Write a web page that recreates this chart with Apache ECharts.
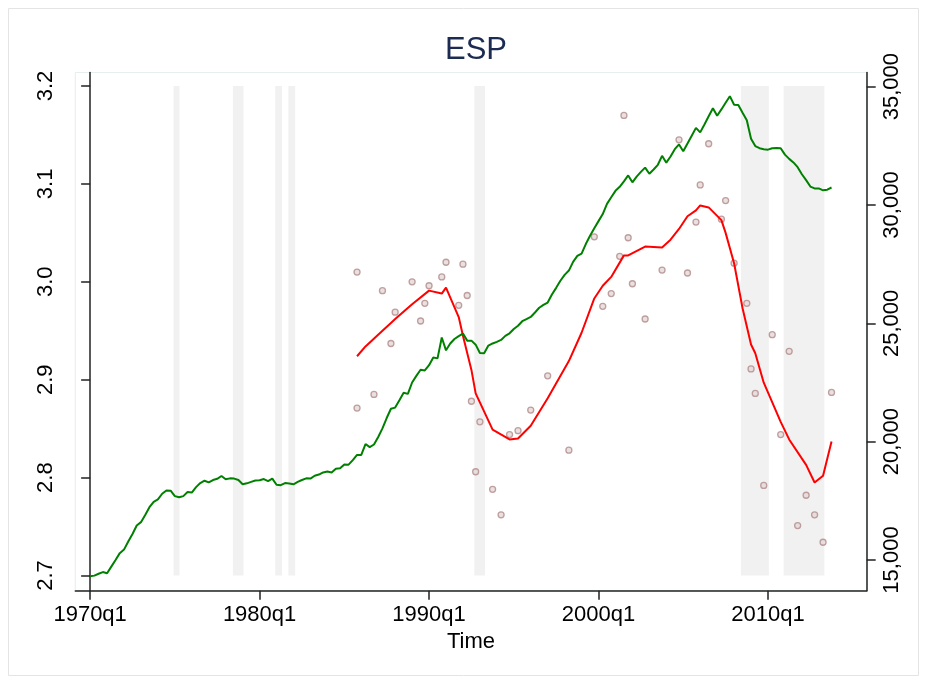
<!DOCTYPE html>
<html>
<head>
<meta charset="utf-8">
<script src="https://cdn.jsdelivr.net/npm/echarts@6/dist/echarts.min.js"></script>
<style>
  html, body { margin: 0; padding: 0; background: #fff; }
  #chart { width: 928px; height: 683px; }
</style>
</head>
<body>
<div id="chart"></div>
<script>
(function () {
    // quarter index: 0 = 1970q1
    let greenVals = [
        14315, 14340, 14420, 14490, 14440, 14720, 15000, 15290, 15440, 15780,
        16100, 16460, 16600, 16900, 17230, 17460, 17560, 17800, 17940, 17930,
        17700, 17650, 17700, 17870, 17850, 18080, 18250, 18350, 18280, 18380,
        18430, 18550, 18410, 18450, 18440, 18380, 18200, 18240, 18300, 18360,
        18370, 18420, 18330, 18440, 18180, 18160, 18250, 18230, 18200, 18300,
        18380, 18450, 18440, 18560, 18610, 18700, 18740, 18700, 18860, 18880,
        19040, 19030, 19220, 19440, 19440, 19900, 19770, 19880, 20200, 20560,
        21000, 21390, 21440, 21750, 22070, 22020, 22500, 22780, 23040, 23010,
        23230, 23560, 23520, 24400, 23860, 24150, 24340, 24460, 24570, 24270,
        24270, 24100, 23750, 23740, 24060, 24150, 24220, 24300, 24470, 24580,
        24760, 24900, 25090, 25180, 25270, 25460, 25660, 25780, 25880, 26220,
        26500, 26800, 27050, 27230, 27600, 27850, 27950, 28350, 28700, 29020,
        29320, 29620, 30050, 30330, 30600, 30770, 31000, 31250, 30960, 31200,
        31400, 31580, 31320, 31500, 31700, 32080, 31790, 32050, 32360, 32560,
        32270, 32600, 32930, 33260, 33070, 33400, 33750, 34090, 33770, 34040,
        34320, 34600, 34240, 34230, 33900, 33580, 32800, 32490, 32400, 32360,
        32340, 32400, 32410, 32400, 32130, 31950, 31800, 31600, 31300, 31050,
        30780, 30700, 30700, 30620, 30650, 30740
    ];

    let redQ = [63, 65, 69, 71, 72, 76, 80, 83, 84, 87, 88, 90, 91, 95, 99, 101, 104, 108, 113, 116,
        119, 121, 123, 126, 127, 131, 135, 137, 139, 141, 143, 144, 146, 149, 150, 152, 154, 156,
        157, 159, 163, 165, 169, 171, 173, 175];
    let redVals = [2.924, 2.934, 2.950, 2.958, 2.962, 2.977, 2.991, 2.988, 2.994, 2.964, 2.945,
        2.910, 2.886, 2.849, 2.839, 2.840, 2.853, 2.881, 2.919, 2.948, 2.983, 2.996, 3.005,
        3.027, 3.027, 3.036, 3.035, 3.043, 3.054, 3.067, 3.073, 3.078, 3.076, 3.063, 3.050,
        3.019, 2.973, 2.936, 2.927, 2.897, 2.857, 2.839, 2.813, 2.795, 2.802, 2.837];

    let dotQ = [63, 63, 67, 69, 71, 72, 76, 78, 79, 80, 83, 84, 87, 88, 89, 90, 91, 92, 95, 97,
        99, 101, 104, 108, 113, 119, 121, 123, 125, 126, 127, 128, 131, 135, 139, 141, 143,
        144, 146, 149, 150, 152, 155, 156, 157, 159, 161, 163, 165, 167, 169, 171, 173, 175];
    let dotVals = [2.871, 3.010, 2.885, 2.991, 2.937, 2.969, 3.000, 2.960, 2.978, 2.996, 3.005,
        3.020, 2.976, 3.018, 2.986, 2.878, 2.806, 2.857, 2.788, 2.762, 2.844, 2.848, 2.869,
        2.904, 2.828, 3.046, 2.975, 2.988, 3.026, 3.170, 3.045, 2.998, 2.962, 3.012, 3.145,
        3.009, 3.061, 3.099, 3.141, 3.064, 3.083, 3.019, 2.978, 2.911, 2.886, 2.792, 2.946,
        2.844, 2.929, 2.751, 2.782, 2.762, 2.734, 2.887];

    // shaded periods (quarter index)
    let bandStart = [19.7, 33.7, 43.7, 46.8, 90.7, 153.6, 163.7];
    let bandEnd = [21.1, 36.2, 45.3, 48.4, 93.2, 160.2, 173.3];

    let xTicks = [0, 40, 80, 120, 160];
    let leftTicks = [2.7, 2.8, 2.9, 3.0, 3.1, 3.2];
    let rightTicks = [15000, 20000, 25000, 30000, 35000];

    let font = 'Liberation Sans, Arial, Helvetica, sans-serif';
    let axisLine = { show: true, lineStyle: { color: '#222', width: 1.5 } };
    let axisTick = { show: true, length: 9, lineStyle: { color: '#222', width: 1.5 } };

    let option = {
        animation: false,
        backgroundColor: '#fff',
        title: {
            text: 'ESP',
            left: 471,
            textAlign: 'center',
            top: 30,
            textStyle: { fontFamily: font, fontSize: 31, fontWeight: 'normal', color: '#1c2b52' }
        },
        graphic: [{
            type: 'rect',
            shape: { x: 8.5, y: 8.5, width: 910, height: 667 },
            style: { fill: 'none', stroke: '#e4e4e4', lineWidth: 1 },
            silent: true
        }],
        grid: {
            left: 75.3,
            right: 61.3,
            top: 72.5,
            bottom: 92.3,
            show: true,
            borderColor: '#e6eef0',
            borderWidth: 1,
            backgroundColor: '#fff'
        },
        xAxis: {
            type: 'value',
            min: -3.5,
            max: 183.3,
            name: 'Time',
            nameLocation: 'middle',
            nameGap: 38,
            nameTextStyle: { fontFamily: font, fontSize: 22, color: '#000' },
            splitLine: { show: false },
            axisLine: axisLine,
            axisTick: Object.assign({ customValues: xTicks }, axisTick),
            axisLabel: {
                customValues: xTicks,
                margin: 13,
                fontFamily: font,
                fontSize: 22,
                color: '#000',
                formatter: function (v) { return (1970 + Math.round(v / 4)) + 'q1'; }
            }
        },
        yAxis: [{
            type: 'value',
            position: 'left',
            min: 2.6845,
            max: 3.2138,
            splitLine: { show: false },
            axisLine: axisLine,
            axisTick: Object.assign({ customValues: leftTicks }, axisTick),
            axisLabel: {
                customValues: leftTicks,
                rotate: 90,
                margin: 18,
                fontFamily: font,
                fontSize: 22,
                color: '#000',
                formatter: function (v) { return v.toFixed(1); }
            }
        }, {
            type: 'value',
            position: 'right',
            min: 13703,
            max: 35600,
            splitLine: { show: false },
            axisLine: axisLine,
            axisTick: Object.assign({ customValues: rightTicks }, axisTick),
            axisLabel: {
                customValues: rightTicks,
                rotate: 90,
                margin: 14,
                fontFamily: font,
                fontSize: 22,
                color: '#000',
                formatter: function (v) { return v.toLocaleString('en-US'); }
            }
        }],
        series: [
            {
                name: 'bands',
                type: 'custom',
                yAxisIndex: 0,
                z: 1,
                silent: true,
                data: bandStart.map(function (s, i) { return [s, bandEnd[i]]; }),
                renderItem: function (params, api) {
                    let p0 = api.coord([api.value(0), 3.2]);
                    let p1 = api.coord([api.value(1), 2.7]);
                    return {
                        type: 'rect',
                        shape: { x: p0[0], y: p0[1], width: p1[0] - p0[0], height: p1[1] - p0[1] },
                        style: { fill: '#f1f1f1' }
                    };
                }
            },
            {
                name: 'dots',
                type: 'scatter',
                yAxisIndex: 0,
                z: 2,
                symbol: 'circle',
                symbolSize: 6,
                itemStyle: { color: '#e6d8d8', borderColor: '#b08a8a', borderWidth: 1.3 },
                data: dotQ.map(function (q, i) { return [q, dotVals[i]]; })
            },
            {
                name: 'trend',
                type: 'line',
                yAxisIndex: 0,
                z: 3,
                showSymbol: false,
                lineStyle: { color: '#ff0000', width: 2 },
                data: redQ.map(function (q, i) { return [q, redVals[i]]; })
            },
            {
                name: 'gdp',
                type: 'line',
                yAxisIndex: 1,
                z: 4,
                showSymbol: false,
                lineStyle: { color: '#008000', width: 2 },
                data: greenVals.map(function (v, i) { return [i, v]; })
            }
        ]
    };

    let myChart = echarts.init(document.getElementById('chart'));
    myChart && myChart.setOption(option);
}());
</script>
</body>
</html>
